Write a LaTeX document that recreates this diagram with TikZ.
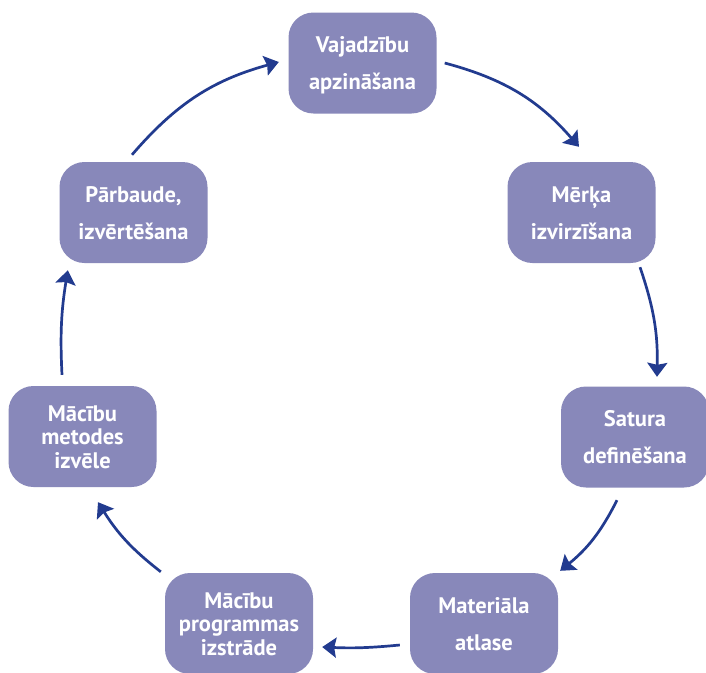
\documentclass[tikz,border=0pt]{standalone}
\usepackage{fontspec}
\setmainfont{PT Sans}
\usetikzlibrary{arrows.meta,calc}
\definecolor{boxfill}{HTML}{8888BA}
\definecolor{arrowcol}{HTML}{223B8F}
\newcommand{\firstln}[1]{\rule{0pt}{16pt}\smash{#1}}
\newcommand{\otherln}[1]{\smash{#1}}
\tikzset{
  stepbox/.style={draw=none, fill=boxfill, rounded corners=25pt,
    minimum width=148pt, minimum height=101pt, inner sep=0pt,
    align=center, text=white, font=\fontsize{22.5}{37}\selectfont\bfseries},
  threeline/.style={font=\fontsize{22.5}{23.5}\selectfont\bfseries},
  cyc/.style={line width=2.7pt, draw=arrowcol,
    -{Stealth[length=14pt,width=20pt,inset=2pt]}},
}
\begin{document}
\begin{tikzpicture}[x=1pt,y=1pt]
\fill[white] (0,0) rectangle (706,-672);
\useasboundingbox (0,0) rectangle (706,-672);

\node[stepbox] (b1) at (362.5,-63) {\firstln{Vajadzību}\\\otherln{apzināšana}};
\node[stepbox] (b2) at (581.5,-212.5) {\firstln{Mērķa}\\\otherln{izvirzīšana}};
\node[stepbox] (b3) at (635,-437) {\firstln{Satura}\\\otherln{definēšana}};
\node[stepbox] (b4) at (484,-623.5) {\firstln{Materiāla}\\\otherln{atlase}};
\node[stepbox,threeline] (b5) at (239,-623.5) {\firstln{Mācību}\\\otherln{programmas}\\\otherln{izstrāde}};
\node[stepbox,threeline] (b6) at (82.5,-436.5) {\firstln{Mācību}\\\otherln{metodes}\\\otherln{izvēle}};
\node[stepbox] (b7) at (133.5,-212.5) {\firstln{Pārbaude,}\\\otherln{izvērtēšana}};

\draw[cyc] ($(b1.east)+(8,0)$) to[bend left=17] ($(b2.north)+(-2.5,15)$);
\draw[cyc] ($(b2.south)+(58.5,-4)$) to[bend left=10] ($(b3.north)+(22,9.5)$);
\draw[cyc] ($(b3.south)+(-18,-12.5)$) to[bend left=12] ($(b4.north east)+(2,2)$);
\draw[cyc] ($(b4.west)+(-10,-21.5)$) to[bend left=4] ($(b5.east)+(9,-23.5)$);
\draw[cyc] ($(b5.north west)+(-4,1)$) to[bend left=10] ($(b6.south)+(15.5,-15)$);
\draw[cyc] ($(b6.north)+(-20.5,11)$) to[bend left=6] ($(b7.south west)+(8.5,-7)$);
\draw[cyc] ($(b7.north)+(-1.5,7)$) to[bend left=17] ($(b1.west)+(-9.5,1)$);
\end{tikzpicture}
\end{document}
